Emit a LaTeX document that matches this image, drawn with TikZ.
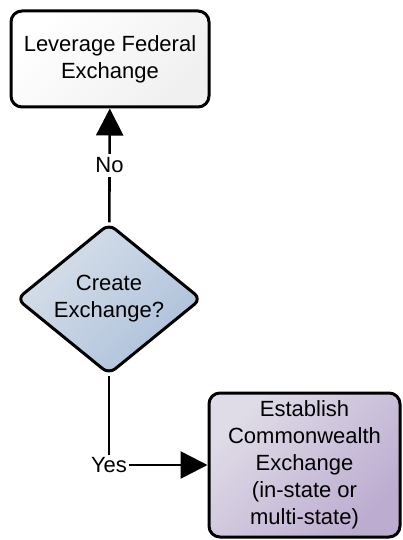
\documentclass[tikz,border=0pt]{standalone}
\usepackage{fontspec}
\setmainfont{Liberation Sans}
\usetikzlibrary{shapes.geometric,arrows.meta}

\begin{document}
\begin{tikzpicture}[x=1pt, y=-1pt, >={Triangle[width=27pt,length=27pt]}, line join=round,
    txt/.style={font=\fontsize{22}{27}\selectfont, align=center},
    box/.style={txt, draw, line width=3pt, rounded corners=11pt, inner sep=0pt},
    decision/.style={txt, diamond, draw, line width=3pt, rounded corners=8pt, inner sep=0pt, aspect=1.22},
    link/.style={line width=2.6pt},
    tag/.style={txt, fill=white, inner xsep=1.5pt, inner ysep=4pt}]
    % Fix the page to the reference size
    \useasboundingbox (0,0) rectangle (402,540);

    % Top box: the "No" outcome
    \node[box, minimum width=198pt, minimum height=96pt,
        top color=white, bottom color=black!6, shading angle=45] (federal) at (110,59)
        {Leverage Federal\\Exchange};

    % The decision diamond
    \node[decision, minimum width=185pt, minimum height=151pt,
        top color={rgb,255:red,216;green,224;blue,234}, bottom color={rgb,255:red,172;green,192;blue,218},
        shading angle=45] (create) at (109,299)
        {Create\\Exchange?};

    % Bottom right box: the "Yes" outcome
    \node[box, minimum width=191pt, minimum height=144pt,
        top color={rgb,255:red,224;green,220;blue,231}, bottom color={rgb,255:red,188;green,172;blue,208},
        shading angle=45] (establish) at (304.5,465)
        {Establish\\Commonwealth\\Exchange\\(in-state or\\multi-state)};

    % No: straight up into the top box
    \draw[link, ->] (create) -- node[tag] {No} (federal);

    % Yes: down to the label, then right into the box
    \node[tag, inner ysep=2pt] (yes) at (create.south |- establish.west) {Yes};
    \draw[link] (create) -- (yes);
    \draw[link, ->] (yes) -- (establish);

\end{tikzpicture}
\end{document}
